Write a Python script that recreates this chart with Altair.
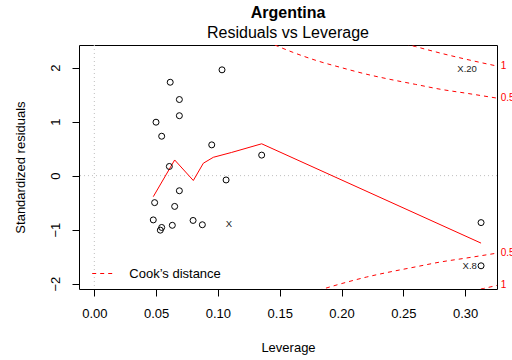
import altair as alt
import pandas as pd

FONT = "Liberation Sans"

# Observations: leverage and standardized residuals
lev = [0.1033, 0.0614, 0.0688, 0.0688, 0.0499, 0.0545, 0.0950, 0.1354, 0.0607,
       0.1066, 0.0688, 0.0488, 0.0650, 0.0477, 0.0799, 0.0631, 0.0874, 0.0545,
       0.0534, 0.3129, 0.3129]
res = [1.96, 1.73, 1.41, 1.11, 0.99, 0.73, 0.57, 0.38, 0.17,
       -0.08, -0.28, -0.50, -0.57, -0.82, -0.83, -0.92, -0.91, -0.96,
       -1.01, -0.87, -1.67]

# Smoothed trend through the residuals
smooth_lev = [0.0477, 0.0650, 0.0801, 0.0882, 0.0963, 0.1111, 0.1354, 0.3129]
smooth_res = [-0.39, 0.29, -0.09, 0.23, 0.34, 0.43, 0.59, -1.25]

# Cook's distance contours (levels 0.5 and 1, both signs)
cook_up05_h = [0.14, 0.16, 0.18, 0.20, 0.22, 0.24, 0.26, 0.28, 0.30, 0.33]
cook_up05_r = [2.48, 2.29, 2.13, 2.00, 1.88, 1.78, 1.69, 1.60, 1.53, 1.42]
cook_up1_h = [0.245, 0.26, 0.28, 0.30, 0.33]
cook_up1_r = [2.48, 2.39, 2.27, 2.16, 2.01]
cook_lo05_h = [0.175, 0.20, 0.22, 0.24, 0.26, 0.28, 0.30, 0.33]
cook_lo05_r = [-2.17, -2.00, -1.88, -1.78, -1.69, -1.60, -1.53, -1.42]
cook_lo1_h = [0.30, 0.315, 0.33]
cook_lo1_r = [-2.16, -2.09, -2.01]

# Contour level labels at the right edge
level_text = ["1", "0.5", "0.5", "1"]
level_pos = [2.03, 1.44, -1.44, -2.03]

# Labelled observations
id_text = ["X.20", "X.8"]
id_lev = [0.3095, 0.3095]
id_res = [1.98, -1.67]
mark_text = ["X"]
mark_lev = [0.109]
mark_res = [-0.90]

X_DOM = [-0.0124, 0.3258]
Y_DOM = [-2.1, 2.42]
W, H = 418, 244

pts = pd.DataFrame({"lev": lev, "res": res})
smooth = pd.DataFrame({"lev": smooth_lev, "res": smooth_res})
cook_parts = []
for name, hs, rs in [("u05", cook_up05_h, cook_up05_r), ("u1", cook_up1_h, cook_up1_r),
                     ("l05", cook_lo05_h, cook_lo05_r), ("l1", cook_lo1_h, cook_lo1_r)]:
    cook_parts.append(pd.DataFrame({"lev": hs, "res": rs, "curve": name,
                                    "kind": "Cook\u2019s distance"}))
cook = pd.concat(cook_parts, ignore_index=True)
levels = pd.DataFrame({"txt": level_text, "res": level_pos})
ids = pd.DataFrame({"txt": id_text, "lev": id_lev, "res": id_res})
marks = pd.DataFrame({"txt": mark_text, "lev": mark_lev, "res": mark_res})

xs = alt.Scale(domain=X_DOM, nice=False, zero=False)
ys = alt.Scale(domain=Y_DOM, nice=False, zero=False)

x_enc = alt.X("lev:Q", scale=xs, title="Leverage",
              axis=alt.Axis(values=[0, 0.05, 0.1, 0.15, 0.2, 0.25, 0.3], format=".2f"))
y_enc = alt.Y("res:Q", scale=ys, title="Standardized residuals",
              axis=alt.Axis(values=[-2, -1, 0, 1, 2], format="d", labelAngle=270,
                            labelAlign="center", labelBaseline="bottom"))

zero_h = alt.Chart(pd.DataFrame({"res": [0]})).mark_rule(
    color="#bebebe", strokeDash=[1, 3], strokeWidth=1).encode(y=alt.Y("res:Q", scale=ys))
zero_v = alt.Chart(pd.DataFrame({"lev": [0]})).mark_rule(
    color="#bebebe", strokeDash=[1, 3], strokeWidth=1).encode(x=alt.X("lev:Q", scale=xs))

points = alt.Chart(pts).mark_point(
    shape="circle", filled=False, color="black", size=36, strokeWidth=1, opacity=1
).encode(x=x_enc, y=y_enc)

smooth_line = alt.Chart(smooth).mark_line(color="red", strokeWidth=1).encode(
    x=alt.X("lev:Q", scale=xs), y=alt.Y("res:Q", scale=ys))

cook_lines = alt.Chart(cook).mark_line(
    strokeDash=[4, 4], strokeWidth=1, interpolate="monotone", clip=True
).encode(
    x=alt.X("lev:Q", scale=xs), y=alt.Y("res:Q", scale=ys), detail="curve:N",
    color=alt.Color("kind:N", scale=alt.Scale(range=["red"]),
                    legend=alt.Legend(title=None, orient="none", legendX=12.7, legendY=218,
                                      padding=0, symbolType="stroke", symbolSize=400,
                                      symbolStrokeWidth=1, symbolDash=[4, 4],
                                      labelFontSize=13, labelFont=FONT, labelColor="black",
                                      labelOffset=16.6)))

level_labels = alt.Chart(levels).mark_text(
    align="left", baseline="middle", color="red", fontSize=10, font=FONT
).encode(x=alt.value(W + 3.7), y=alt.Y("res:Q", scale=ys), text="txt:N")

id_labels = alt.Chart(ids).mark_text(
    align="right", baseline="middle", color="#222222", fontSize=9.5, font=FONT
).encode(x=alt.X("lev:Q", scale=xs), y=alt.Y("res:Q", scale=ys), text="txt:N")

mark_labels = alt.Chart(marks).mark_text(
    align="center", baseline="middle", color="#222222", fontSize=9.5, font=FONT
).encode(x=alt.X("lev:Q", scale=xs), y=alt.Y("res:Q", scale=ys), text="txt:N")

chart = alt.layer(
    zero_h, zero_v, cook_lines, smooth_line, points, level_labels, id_labels, mark_labels
).properties(
    width=W, height=H,
    title=alt.TitleParams(text="Argentina", subtitle="Residuals vs Leverage",
                          fontSize=16, fontWeight="bold", font=FONT,
                          subtitleFontSize=16, subtitleFont=FONT, subtitleColor="black",
                          color="black", anchor="middle", offset=4, subtitlePadding=4),
    autosize=alt.AutoSizeParams(type="none"),
    padding={"left": 79, "top": 45, "right": 15, "bottom": 71},
    background="white",
).configure_view(
    stroke="black", strokeWidth=1
).configure_axis(
    grid=False, domain=False, tickColor="black", tickSize=7, tickWidth=1,
    labelFont=FONT, labelFontSize=13, labelColor="black",
    titleFont=FONT, titleFontSize=13, titleFontWeight="normal", titleColor="black"
).configure_axisX(
    labelPadding=11, titlePadding=21
).configure_axisY(
    labelPadding=10, titlePadding=22
)

chart.save("out.html", embed_options={"renderer": "svg", "actions": False})
